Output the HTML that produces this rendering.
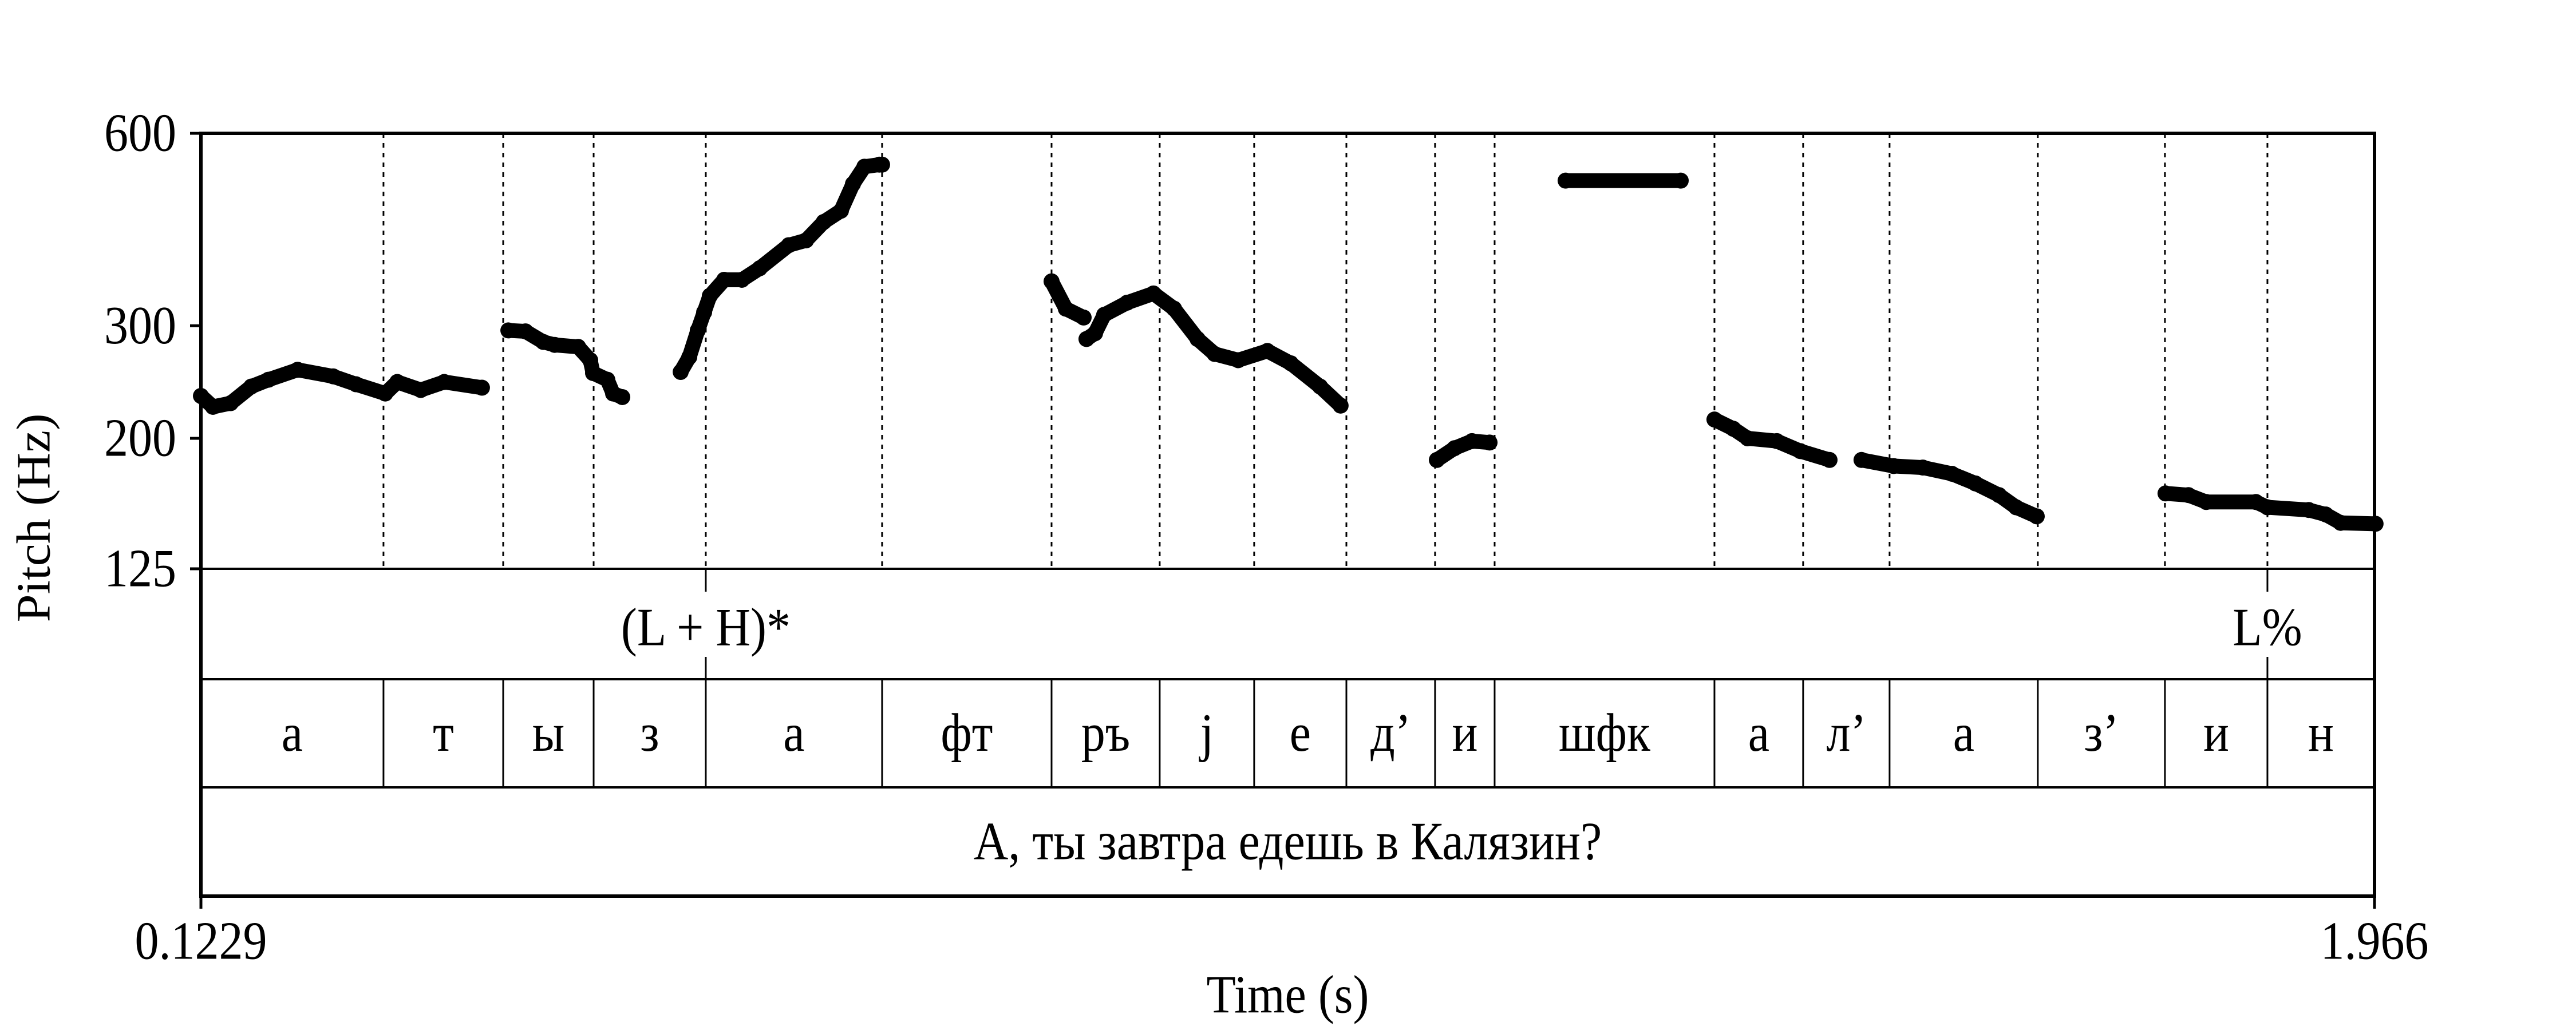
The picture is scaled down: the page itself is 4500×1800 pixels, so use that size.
<!DOCTYPE html>
<html><head><meta charset="utf-8"><style>
html,body{margin:0;padding:0;background:#fff;}
svg{display:block;}
text{font-family:"Liberation Serif",serif;fill:#000;}
</style></head><body>
<svg id="chart" width="4500" height="1800" viewBox="0 0 4500 1800" xmlns="http://www.w3.org/2000/svg">
<rect x="0" y="0" width="4500" height="1800" fill="#fff"/>
<g id="grid"></g>
<g id="pitch"></g>
<g id="tiers"></g>
<g id="labels"></g>
</svg>
<script>
const tMin = 0.1229, tMax = 1.966;
const fMin = 125, fMax = 600;
const yTicks = [600, 300, 200, 125];
const boundaries = [0.2777,0.3792,0.4559,0.5510,0.7005,0.8442,0.9359,1.0160,1.0942,1.1694,1.2199,1.4063,1.4815,1.5548,1.6805,1.7883,1.8752];
const phones = ["а","т","ы","з","а","фт","ръ","j","е","д’","и","шфк","а","л’","а","з’","и","н"];
const toneTimes = [0.5510, 1.8752];
const toneLabels = ["(L + H)*", "L%"];
const sentence = "А, ты завтра едешь в Калязин?";
const segTimes = [
 [.1229,.1331,.1481,.1656,.1802,.2049,.2350,.2544,.2792,.2894,.3093,.3292,.3612],
 [.3836,.3981,.4132,.4229,.4428,.4530,.4554,.4675,.4724,.4802],
 [.5297,.5370,.5442,.5496,.5544,.5666,.5816,.5967,.6214,.6360,.6510,.6656,.6758,.6855,.6981,.7005],
 [.8442,.8563,.8714],
 [.8738,.8811,.8888,.9083,.9306,.9481,.9680,.9825,1.0025,1.0272,1.0471,1.0719,1.0893],
 [1.1709,1.1859,1.2007,1.2156],
 [1.2801,1.3777],
 [1.4063,1.4223,1.4344,1.4592,1.4791,1.5039],
 [1.5310,1.5582,1.5830,1.6077,1.6276,1.6476,1.6621,1.6796],
 [1.7888,1.8082,1.8233,1.8655,1.8752,1.9102,1.9247,1.9373,1.9669]
];
const segHz = [
 [233,224,227,241,247,256,250,243,235,245,238,245,240],
 [295,294,283,280,278,265,253,247,235,232],
 [254,268,295,315,334,354,354,369,401,408,436,454,500,532,536,536],
 [352,319,309],
 [286,292,312,326,337,319,286,271,265,274,262,241,225],
 [185,193,198,197],
 [506,506],
 [214,207,200,198,191,185],
 [185,181,180,176,170,163,156,151],
 [164,163,159,159,156,154.5,152,147.5,147]
];
const L = 351, R = 4148, TOP = 233, P_BOT = 994, T1_BOT = 1187, T2_BOT = 1376, T3_BOT = 1566;
const NS = "http://www.w3.org/2000/svg";
function xs(t){ return L + (t - tMin) / (tMax - tMin) * (R - L); }
function ys(f){ return TOP + Math.log(fMax / f) / Math.log(fMax / fMin) * (P_BOT - TOP); }
function mk(tag, parent, attrs){ const e = document.createElementNS(NS, tag); for (const k in attrs) e.setAttribute(k, attrs[k]); parent.appendChild(e); return e; }
function txt(parent, x, y, s, anchor, size, sy){
  const e = mk("text", parent, {"text-anchor": anchor, "font-size": size, "dominant-baseline": "central", transform: "translate(" + x + "," + y + ") scale(1," + sy + ")"});
  e.textContent = s; return e;
}
const FS = 84, SY = 1.12;
const grid = document.getElementById("grid"), pitch = document.getElementById("pitch"), tiers = document.getElementById("tiers"), labels = document.getElementById("labels");
boundaries.forEach(function(b){
  const l = mk("line", grid, {x1: xs(b), x2: xs(b), y1: TOP, y2: P_BOT, stroke: "#000", "stroke-width": 3, "stroke-dasharray": "8,9"});
  
  
});
segTimes.forEach(function(ts, i){
  const pts = ts.map(function(t, j){ return xs(t) + "," + ys(segHz[i][j]); }).join(" ");
  const p = mk("polyline", pitch, {points: pts, fill: "none", stroke: "#000", "stroke-width": 26, "stroke-linecap": "round", "stroke-linejoin": "round"});
  
  
  ts.forEach(function(t, j){
    const c = mk("circle", pitch, {cx: xs(t), cy: ys(segHz[i][j]), r: 14, fill: "#000"});
    
    
  });
});
const frame = mk("rect", tiers, {x: L, y: TOP, width: R - L, height: T3_BOT - TOP, fill: "none", stroke: "#000", "stroke-width": 6});


[P_BOT, T1_BOT, T2_BOT].forEach(function(y){
  const l = mk("line", tiers, {x1: L, x2: R, y1: y, y2: y, stroke: "#000", "stroke-width": 4});
  
  
});
boundaries.forEach(function(b){
  const l = mk("line", tiers, {x1: xs(b), x2: xs(b), y1: T1_BOT, y2: T2_BOT, stroke: "#000", "stroke-width": 3});
  
  
});
const edges = [tMin].concat(boundaries).concat([tMax]);
phones.forEach(function(ph, i){
  const e = txt(labels, (xs(edges[i]) + xs(edges[i + 1])) / 2, (T1_BOT + T2_BOT) / 2, ph, "middle", FS, SY);
  
  
});
toneTimes.forEach(function(t, i){
  const a = mk("line", tiers, {x1: xs(t), x2: xs(t), y1: P_BOT, y2: 1034, stroke: "#000", "stroke-width": 3});
  
  
  const b = mk("line", tiers, {x1: xs(t), x2: xs(t), y1: 1148, y2: T1_BOT, stroke: "#000", "stroke-width": 3});
  
  
  const e = txt(labels, xs(t), 1097, toneLabels[i], "middle", FS, SY);
  
  
});
const s = txt(labels, (L + R) / 2, (T2_BOT + T3_BOT) / 2, sentence, "middle", FS, SY);


yTicks.forEach(function(v){
  const l = mk("line", labels, {x1: 332, x2: L, y1: ys(v), y2: ys(v), stroke: "#000", "stroke-width": 5});
  
  
  const e = txt(labels, 308, ys(v), String(v), "end", FS, SY);
  
  
});
[[tMin, "0.1229"], [tMax, "1.966"]].forEach(function(p){
  const l = mk("line", labels, {x1: xs(p[0]), x2: xs(p[0]), y1: T3_BOT, y2: 1588, stroke: "#000", "stroke-width": 5});
  
  
  const e = txt(labels, xs(p[0]), 1645, p[1], "middle", FS, SY);
  
  
});
const xt = txt(labels, (L + R) / 2, 1739, "Time (s)", "middle", FS, SY);


const yt = mk("text", labels, {"text-anchor": "middle", "font-size": FS, "dominant-baseline": "central", transform: "translate(58,905) rotate(-90) scale(1.05,1)"});
yt.textContent = "Pitch (Hz)";


</script>
</body></html>
